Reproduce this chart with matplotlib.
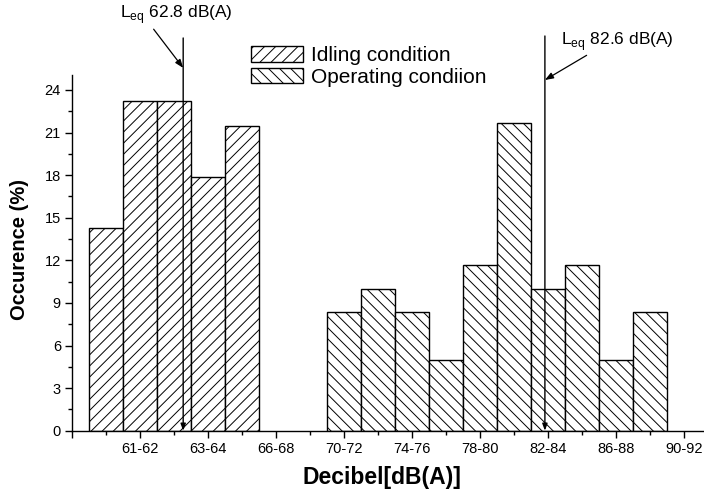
import numpy as np
import matplotlib
matplotlib.use('Agg')
import matplotlib.pyplot as plt
from matplotlib.patches import Patch

plt.rcParams['font.family'] = ['Liberation Sans', 'DejaVu Sans']
plt.rcParams['hatch.linewidth'] = 0.7
plt.rcParams['hatch.color'] = 'black'
plt.rcParams['mathtext.fontset'] = 'custom'
plt.rcParams['mathtext.rm'] = 'Liberation Sans'

# occurrence (%) per sound level class, bars sit on class slots along the axis
idle_pos = [1, 2, 3, 4, 5]
idle_occ = [14.29, 23.21, 23.21, 17.86, 21.43]
oper_pos = [8, 9, 10, 11, 12, 13, 14, 15, 16, 17]
oper_occ = [8.33, 10.0, 8.33, 5.0, 11.67, 21.67, 10.0, 11.67, 5.0, 8.33]

tick_pos = [0, 2, 4, 6, 8, 10, 12, 14, 16, 18]
tick_lbl = ['', '61-62', '63-64', '66-68', '70-72', '74-76', '78-80',
            '82-84', '86-88', '90-92']

# equivalent level markers (slot position on the class axis)
leq_idle = 3.27
leq_oper = 13.91

fig = plt.figure(figsize=(7.04, 4.92), dpi=100)
ax = fig.add_axes([0.1023, 0.1246, 0.8977, 0.7229])

ax.bar(idle_pos, idle_occ, width=1.0, color='white', edgecolor='black',
       linewidth=1.0, hatch='///')
ax.bar(oper_pos, oper_occ, width=1.0, color='white', edgecolor='black',
       linewidth=1.0, hatch='\\\\\\')

ax.set_xlim(0, 18.59)
ax.set_ylim(0, 25.05)
ax.set_xticks(tick_pos)
ax.set_xticklabels(tick_lbl)
ax.set_xticks(np.arange(1, 19, 2), minor=True)
ax.set_yticks(np.arange(0, 25, 3))
ax.set_yticks(np.arange(1.5, 25, 3), minor=True)
ax.tick_params(which='major', direction='out', length=5, width=1,
               labelsize=10.5, pad=3)
ax.tick_params(which='minor', direction='out', length=3, width=1)

for side in ['top', 'right']:
    ax.spines[side].set_visible(False)
for side in ['left', 'bottom']:
    ax.spines[side].set_linewidth(1.0)

ax.set_xlabel('Decibel[dB(A)]', fontsize=16.5, fontweight='bold')
ax.xaxis.set_label_coords(0.49, -0.10)
ax.set_ylabel('Occurence (%)', fontsize=14.5, fontweight='bold')
ax.yaxis.set_label_coords(-0.068, 0.51)

arrow_kw = dict(arrowstyle='-|>,head_length=0.4,head_width=0.15',
                color='black', lw=1.0, shrinkA=0, shrinkB=0)

# Leq vertical lines with small arrowheads at the axis
for x, top in [(leq_idle, 27.66), (leq_oper, 27.8)]:
    ax.annotate('', xy=(x, 0.0), xytext=(x, top), arrowprops=arrow_kw,
                annotation_clip=False)

ax.annotate('L$_{\\mathregular{eq}}$ 62.8 dB(A)', xy=(leq_idle, 25.55),
            xytext=(1.41, 29.28), fontsize=12.5, va='center', ha='left',
            arrowprops=dict(arrow_kw, lw=0.9, relpos=(0.28, 0.0)),
            annotation_clip=False)
ax.annotate('L$_{\\mathregular{eq}}$ 82.6 dB(A)', xy=(leq_oper, 24.7),
            xytext=(14.38, 27.44), fontsize=12.5, va='center', ha='left',
            arrowprops=dict(arrow_kw, lw=0.9, relpos=(0.27, 0.0)),
            annotation_clip=False)

handles = [Patch(facecolor='white', edgecolor='black', hatch='///', lw=1.0),
           Patch(facecolor='white', edgecolor='black', hatch='\\\\\\', lw=1.0)]
ax.legend(handles, ['Idling condition', 'Operating condiion'],
          loc='upper left', bbox_to_anchor=(0.3565, 0.906),
          bbox_transform=fig.transFigure, frameon=False, fontsize=15,
          handlelength=2.5, handleheight=0.76, handletextpad=0.38,
          labelspacing=0.13, borderpad=0, borderaxespad=0)

fig.savefig('out.png', dpi=100)
